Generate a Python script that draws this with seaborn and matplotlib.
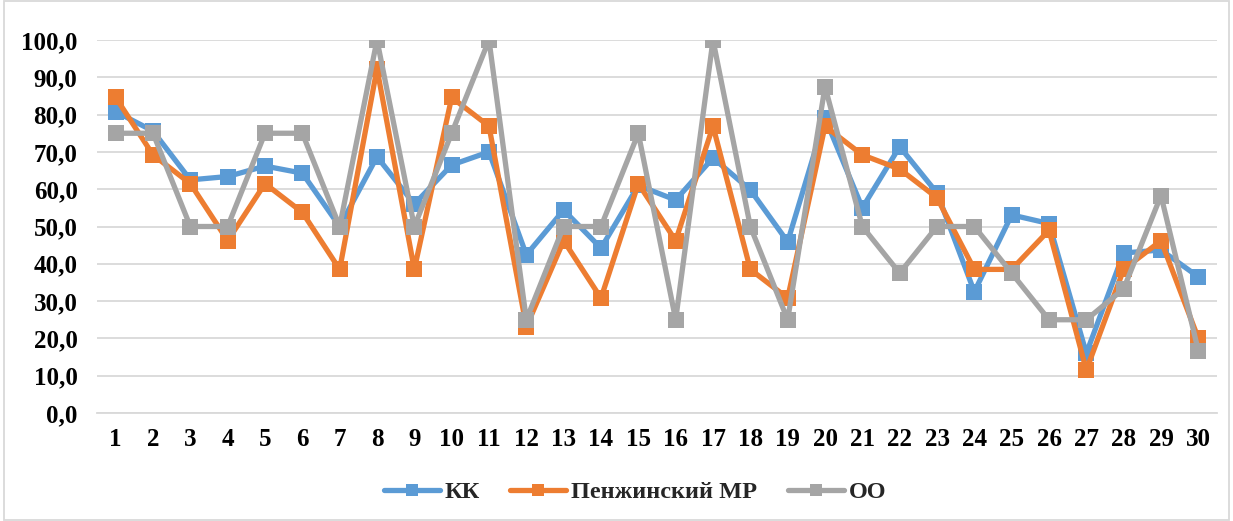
import matplotlib
matplotlib.use("Agg")
import matplotlib.pyplot as plt
import seaborn as sns
import pandas as pd
from matplotlib.ticker import FuncFormatter, MultipleLocator
from matplotlib.patches import Rectangle

categories = list(range(1, 31))
kk = [80.8, 75.6, 62.5, 63.4, 66.2, 64.3, 50.0, 68.7, 56.0, 66.5,
      70.0, 42.4, 54.4, 44.2, 61.0, 57.1, 68.4, 59.8, 45.9, 79.1,
      55.0, 71.4, 59.0, 32.5, 53.1, 50.8, 16.0, 42.9, 43.7, 36.5]
penzh = [84.6, 69.2, 61.5, 46.2, 61.5, 53.8, 38.5, 92.3, 38.5, 84.6,
         76.9, 23.1, 46.2, 30.8, 61.5, 46.2, 76.9, 38.5, 30.8, 76.9,
         69.2, 65.4, 57.7, 38.5, 38.5, 49.0, 11.5, 38.5, 46.2, 20.0]
oo = [75.0, 75.0, 50.0, 50.0, 75.0, 75.0, 50.0, 100.0, 50.0, 75.0,
      100.0, 25.0, 50.0, 50.0, 75.0, 25.0, 100.0, 50.0, 25.0, 87.5,
      50.0, 37.5, 50.0, 50.0, 37.5, 25.0, 25.0, 33.3, 58.3, 16.7]
series_names = ["КК", "Пенжинский МР", "ОО"]
colors = ["#5B9BD5", "#ED7D31", "#A5A5A5"]

rows = []
for name, vals in zip(series_names, [kk, penzh, oo]):
    for c, v in zip(categories, vals):
        rows.append({"cat": c, "value": v, "series": name})
df = pd.DataFrame(rows)

sns.set_theme(style="white")
plt.rcParams["font.family"] = ["Liberation Serif", "DejaVu Serif"]

fig = plt.figure(figsize=(12.33, 5.21), dpi=100)
ax = fig.add_axes([97 / 1233, 1 - 413 / 521, (1217 - 97) / 1233, (413 - 40) / 521])

sns.lineplot(data=df, x="cat", y="value", hue="series", hue_order=series_names,
             palette=colors, style="series", markers=["s", "s", "s"], dashes=False,
             linewidth=3.8, markersize=11, markeredgewidth=0, ax=ax, legend=True)

ax.set_xlim(0.5, 30.5)
ax.set_ylim(0, 100)
ax.yaxis.set_major_locator(MultipleLocator(10))
ax.yaxis.set_major_formatter(FuncFormatter(lambda v, p: f"{v:.1f}".replace(".", ",")))
ax.set_xticks(categories)
ax.set_xticklabels([str(c) for c in categories])
ax.set_xlabel("")
ax.set_ylabel("")
ax.grid(axis="y", color="#D9D9D9", linewidth=1.3)
ax.set_axisbelow(True)
for s in ["top", "right", "left"]:
    ax.spines[s].set_visible(False)
ax.spines["bottom"].set_color("#D9D9D9")
ax.spines["bottom"].set_linewidth(1.3)
ax.tick_params(axis="y", length=0, labelsize=18, pad=14)
ax.tick_params(axis="x", length=0, labelsize=18, pad=11)
for lbl in ax.get_xticklabels() + ax.get_yticklabels():
    lbl.set_fontweight("bold")
    lbl.set_color("black")

handles, labels = ax.get_legend_handles_labels()
for h in handles:
    h.set_markersize(9)
ax.legend(handles, labels, loc="center", ncol=3, frameon=False,
          prop={"weight": "bold", "size": 17.5}, handlelength=2.3,
          columnspacing=1.25, handletextpad=0.2)
leg = ax.get_legend()
leg.set_bbox_to_anchor((635 / 1233, 1 - 492 / 521), transform=fig.transFigure)

fig.patches.append(Rectangle((4 / 1233, 0.002), 1 - 8 / 1233, 0.996, transform=fig.transFigure,
                             fill=False, edgecolor="#D9D9D9", linewidth=1.3))

fig.savefig("out.png", dpi=100)
